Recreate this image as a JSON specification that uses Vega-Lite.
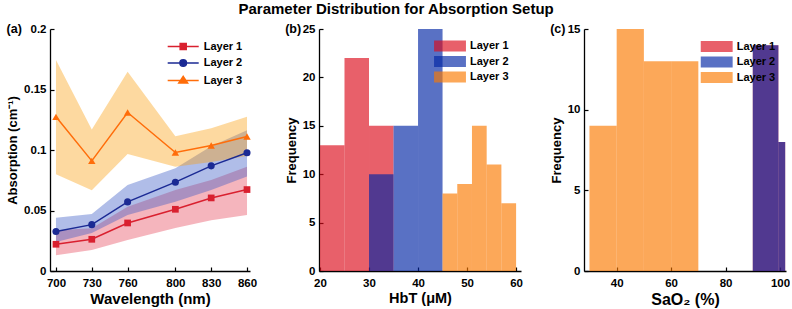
{
  "$schema": "https://vega.github.io/schema/vega-lite/v6.json",
  "padding": {"left": 6, "top": 1, "right": 0, "bottom": 0},
  "title": {"text": "Parameter Distribution for Absorption Setup", "anchor": "middle", "frame": "bounds", "fontSize": 15, "font": "Liberation Sans", "fontWeight": "bold", "color": "#000", "offset": 6, "dx": -2},
  "bounds": "flush",
  "spacing": 69,
  "resolve": {"scale": {"color": "independent", "stroke": "independent", "shape": "independent", "fill": "independent"}, "legend": {"color": "independent", "stroke": "independent", "shape": "independent", "fill": "independent"}},
  "hconcat": [
    {
      "name": "pa",
      "width": 200,
      "height": 242,
      "title": {"text": "(a)"},
      "data": {"values": [
        {"layer": "Layer 1", "wl": 700, "mean": 0.0221, "lo": 0.013, "hi": 0.0337},
        {"layer": "Layer 1", "wl": 730, "mean": 0.0262, "lo": 0.0174, "hi": 0.0353},
        {"layer": "Layer 1", "wl": 760, "mean": 0.0397, "lo": 0.0256, "hi": 0.0532},
        {"layer": "Layer 1", "wl": 800, "mean": 0.051, "lo": 0.0355, "hi": 0.067},
        {"layer": "Layer 1", "wl": 830, "mean": 0.0604, "lo": 0.042, "hi": 0.0752},
        {"layer": "Layer 1", "wl": 860, "mean": 0.0673, "lo": 0.0463, "hi": 0.0862},
        {"layer": "Layer 2", "wl": 700, "mean": 0.0326, "lo": 0.024, "hi": 0.0441},
        {"layer": "Layer 2", "wl": 730, "mean": 0.0383, "lo": 0.0314, "hi": 0.0471},
        {"layer": "Layer 2", "wl": 760, "mean": 0.0571, "lo": 0.0463, "hi": 0.0711},
        {"layer": "Layer 2", "wl": 800, "mean": 0.0734, "lo": 0.0573, "hi": 0.085},
        {"layer": "Layer 2", "wl": 830, "mean": 0.0869, "lo": 0.067, "hi": 0.103},
        {"layer": "Layer 2", "wl": 860, "mean": 0.0977, "lo": 0.078, "hi": 0.1164},
        {"layer": "Layer 3", "wl": 700, "mean": 0.1274, "lo": 0.08, "hi": 0.1743},
        {"layer": "Layer 3", "wl": 730, "mean": 0.091, "lo": 0.0668, "hi": 0.117},
        {"layer": "Layer 3", "wl": 760, "mean": 0.131, "lo": 0.0966, "hi": 0.1647},
        {"layer": "Layer 3", "wl": 800, "mean": 0.0979, "lo": 0.0861, "hi": 0.1114},
        {"layer": "Layer 3", "wl": 830, "mean": 0.1037, "lo": 0.09, "hi": 0.118},
        {"layer": "Layer 3", "wl": 860, "mean": 0.1112, "lo": 0.095, "hi": 0.1274}
      ]},
      "encoding": {
        "x": {"field": "wl", "type": "quantitative", "scale": {"domain": [695, 862.5], "nice": false, "zero": false}, "axis": {"title": "Wavelength (nm)", "titleFontSize": 15, "values": [700, 730, 760, 800, 830, 860]}}
      },
      "layer": [
        {
          "mark": {"type": "area", "opacity": 0.4},
          "encoding": {
            "y": {"field": "lo", "type": "quantitative", "scale": {"domain": [0, 0.2], "nice": false}, "axis": {"title": "Absorption (cm⁻¹)", "values": [0, 0.05, 0.1, 0.15, 0.2], "format": "~g"}},
            "y2": {"field": "hi"},
            "fill": {"field": "layer", "type": "nominal", "scale": {"domain": ["Layer 3", "Layer 2", "Layer 1"], "range": ["#faa012", "#3a5ac6", "#e6465a"]}, "legend": null}
          }
        },
        {"transform": [{"filter": "datum.layer === 'Layer 1'"}], "mark": {"type": "line", "color": "#d9202f", "strokeWidth": 1.5}, "encoding": {"y": {"field": "mean", "type": "quantitative"}}},
        {"transform": [{"filter": "datum.layer === 'Layer 2'"}], "mark": {"type": "line", "color": "#1b2a94", "strokeWidth": 1.5}, "encoding": {"y": {"field": "mean", "type": "quantitative"}}},
        {"transform": [{"filter": "datum.layer === 'Layer 3'"}], "mark": {"type": "line", "color": "#ff6d0a", "strokeWidth": 1.5}, "encoding": {"y": {"field": "mean", "type": "quantitative"}}},
        {"transform": [{"filter": "datum.layer === 'Layer 1'"}], "mark": {"type": "point", "shape": "square", "filled": true, "opacity": 1, "color": "#d9202f", "size": 45}, "encoding": {"y": {"field": "mean", "type": "quantitative"}}},
        {"transform": [{"filter": "datum.layer === 'Layer 2'"}], "mark": {"type": "point", "shape": "circle", "filled": true, "opacity": 1, "color": "#1b2a94", "size": 50}, "encoding": {"y": {"field": "mean", "type": "quantitative"}}},
        {"transform": [{"filter": "datum.layer === 'Layer 3'"}], "mark": {"type": "point", "shape": "triangle-up", "filled": true, "opacity": 1, "color": "#ff6d0a", "size": 55}, "encoding": {"y": {"field": "mean", "type": "quantitative"}}},
        {
          "mark": {"type": "point", "filled": true, "opacity": 0},
          "encoding": {
            "y": {"field": "mean", "type": "quantitative"},
            "color": {"field": "layer", "type": "nominal", "scale": {"domain": ["Layer 1", "Layer 2", "Layer 3"], "range": ["#d9202f", "#1b2a94", "#ff6d0a"]}, "legend": {"title": null, "orient": "none", "legendX": 126.7, "legendY": 11, "symbolOpacity": 1, "symbolSize": 121, "symbolStrokeWidth": 1.5, "labelOffset": 14}},
            "stroke": {"field": "layer", "type": "nominal", "scale": {"domain": ["Layer 1", "Layer 2", "Layer 3"], "range": ["#d9202f", "#1b2a94", "#ff6d0a"]}, "legend": {"title": null, "orient": "none", "legendX": 126.7, "legendY": 11, "symbolOpacity": 1, "symbolSize": 121, "symbolStrokeWidth": 1.5, "labelOffset": 14}},
            "shape": {"field": "layer", "type": "nominal", "scale": {"domain": ["Layer 1", "Layer 2", "Layer 3"], "range": ["M-2.82,0H2.82M-0.55,-0.55H0.55V0.55H-0.55Z", "M-2.82,0H2.82M-0.6,0A0.6,0.6,0,1,0,0.6,0A0.6,0.6,0,1,0,-0.6,0Z", "M-2.82,0H2.82M0,-0.75L0.8,0.45H-0.8Z"]}, "legend": {"title": null, "orient": "none", "legendX": 126.7, "legendY": 11, "symbolOpacity": 1, "symbolSize": 121, "symbolStrokeWidth": 1.5, "labelOffset": 14}}
          }
        }
      ]
    },
    {
      "bounds": "flush",
      "spacing": 63,
      "resolve": {"scale": {"color": "independent"}, "legend": {"color": "independent"}},
      "hconcat": [
        {
          "name": "pb",
          "width": 202,
          "height": 242,
          "title": {"text": "(b)"},
          "data": {"values": [
            {"layer": "Layer 1", "lo": 20, "hi": 25, "count": 13},
            {"layer": "Layer 1", "lo": 25, "hi": 30, "count": 22},
            {"layer": "Layer 1", "lo": 30, "hi": 35, "count": 15},
            {"layer": "Layer 2", "lo": 30, "hi": 35, "count": 10},
            {"layer": "Layer 2", "lo": 35, "hi": 40, "count": 15},
            {"layer": "Layer 2", "lo": 40, "hi": 45, "count": 25},
            {"layer": "Layer 3", "lo": 45, "hi": 48, "count": 8},
            {"layer": "Layer 3", "lo": 48, "hi": 51, "count": 9},
            {"layer": "Layer 3", "lo": 51, "hi": 54, "count": 15},
            {"layer": "Layer 3", "lo": 54, "hi": 57, "count": 11},
            {"layer": "Layer 3", "lo": 57, "hi": 60, "count": 7}
          ]},
          "mark": {"type": "rect", "opacity": 0.65},
          "encoding": {
            "x": {"field": "lo", "type": "quantitative", "scale": {"domain": [19.8, 61], "nice": false, "zero": false}, "axis": {"title": "HbT (μM)", "titleFontSize": 14.5, "values": [20, 30, 40, 50, 60]}},
            "x2": {"field": "hi"},
            "y": {"field": "count", "type": "quantitative", "scale": {"domain": [0, 25], "nice": false}, "axis": {"title": "Frequency", "values": [0, 5, 10, 15, 20, 25]}},
            "y2": {"datum": 0},
            "color": {"field": "layer", "type": "nominal", "scale": {"domain": ["Layer 1", "Layer 2", "Layer 3"], "range": ["#dc0a1a", "#0025a4", "#fa7900"]}, "legend": {"title": null, "orient": "none", "legendX": 125.5, "legendY": 11.5, "symbolType": "M-2.9,-1H2.9V1H-2.9Z", "symbolSize": 121, "symbolStrokeWidth": 0, "labelOffset": 14.5}}
          }
        },
        {
          "name": "pc",
          "width": 202,
          "height": 242,
          "title": {"text": "(c)"},
          "data": {"values": [
            {"layer": "Layer 1", "lo": 90, "hi": 99.4, "count": 14},
            {"layer": "Layer 1", "lo": 99.4, "hi": 101.9, "count": 8},
            {"layer": "Layer 2", "lo": 90, "hi": 99.4, "count": 14},
            {"layer": "Layer 2", "lo": 99.4, "hi": 101.9, "count": 8},
            {"layer": "Layer 3", "lo": 30, "hi": 40, "count": 9},
            {"layer": "Layer 3", "lo": 40, "hi": 50, "count": 15},
            {"layer": "Layer 3", "lo": 50, "hi": 60, "count": 13},
            {"layer": "Layer 3", "lo": 60, "hi": 70, "count": 13}
          ]},
          "mark": {"type": "rect", "opacity": 0.65},
          "encoding": {
            "x": {"field": "lo", "type": "quantitative", "scale": {"domain": [28, 102.2], "nice": false, "zero": false}, "axis": {"title": "SaO₂ (%)", "titleFontSize": 16, "values": [40, 60, 80, 100]}},
            "x2": {"field": "hi"},
            "y": {"field": "count", "type": "quantitative", "scale": {"domain": [0, 15], "nice": false}, "axis": {"title": "Frequency", "values": [0, 5, 10, 15]}},
            "y2": {"datum": 0},
            "color": {"field": "layer", "type": "nominal", "scale": {"domain": ["Layer 1", "Layer 2", "Layer 3"], "range": ["#dc0a1a", "#0025a4", "#fa7900"]}, "legend": {"title": null, "orient": "none", "legendX": 127.2, "legendY": 12, "symbolType": "M-2.9,-1H2.9V1H-2.9Z", "symbolSize": 121, "symbolStrokeWidth": 0, "labelOffset": 14.5}}
          }
        }
      ]
    }
  ],
  "config": {
    "view": {"stroke": null},
    "font": "Liberation Sans",
    "axis": {"domainColor": "#000", "domainWidth": 1.3, "tickColor": "#000", "tickWidth": 1.2, "tickSize": -4, "labelFont": "Liberation Sans", "labelFontWeight": "bold", "labelFontSize": 11.5, "labelColor": "#000", "titleFont": "Liberation Sans", "titleFontWeight": "bold", "titleFontSize": 13, "titleColor": "#000", "grid": false, "labelFlush": false, "labelOverlap": false},
    "axisX": {"labelPadding": 10, "titlePadding": 3},
    "axisY": {"labelPadding": 8, "titlePadding": 4},
    "legend": {"labelFont": "Liberation Sans", "labelFontWeight": "bold", "labelFontSize": 11, "labelColor": "#000", "padding": 0, "rowPadding": 3.5, "labelOffset": 4},
    "title": {"font": "Liberation Sans", "fontWeight": "bold", "fontSize": 12.5, "color": "#000", "anchor": "start", "frame": "bounds", "offset": -12}
  }
}
